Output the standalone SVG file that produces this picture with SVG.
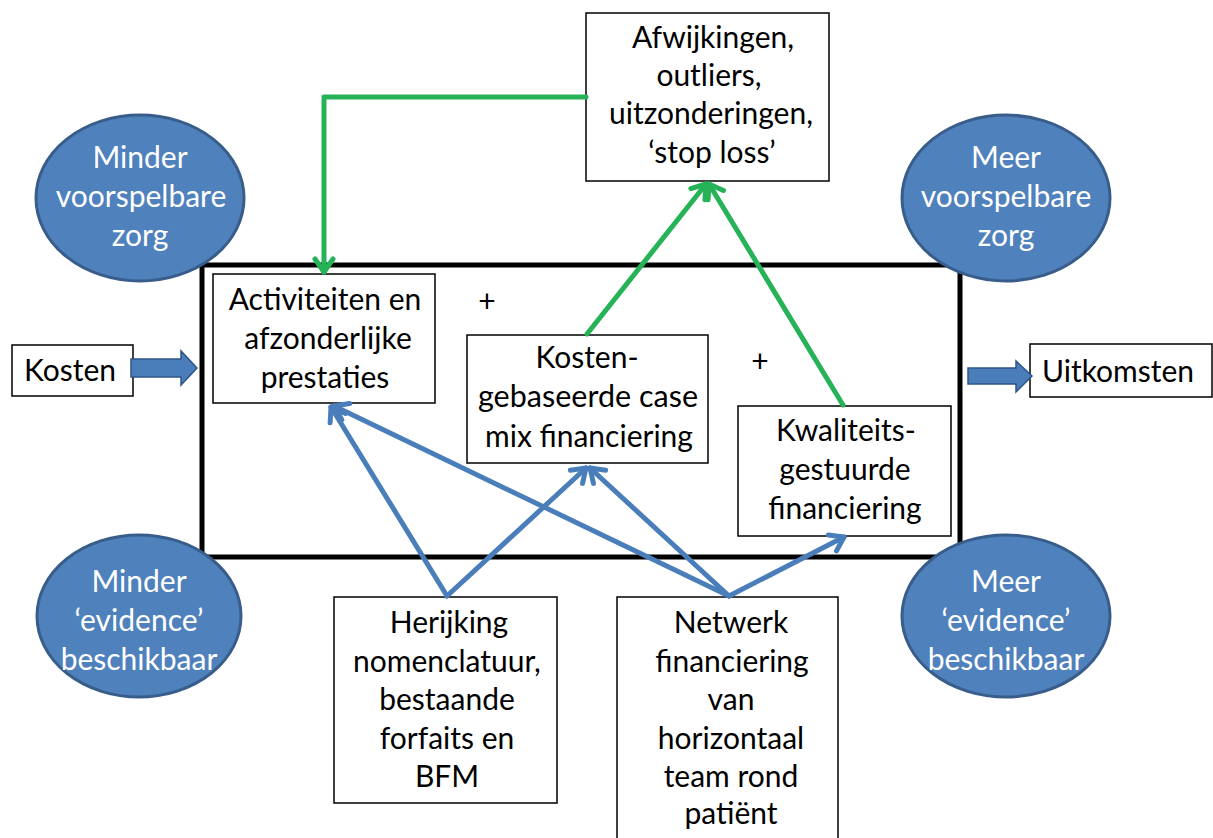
<svg xmlns="http://www.w3.org/2000/svg" width="1213" height="838" viewBox="0 0 1213 838">
<style>
.box{fill:#fff;stroke:#000;stroke-width:1.5}
.t{font-family:Lato,"Liberation Sans",sans-serif;font-size:30px;fill:#000;text-anchor:middle}
.w{fill:#fff}
.ell{fill:#4f81bd;stroke:#385d8a;stroke-width:3}
.g{fill:none;stroke:#26b257;stroke-width:5;stroke-linecap:round;stroke-linejoin:round}
.b{fill:none;stroke:#4a7ebb;stroke-width:5;stroke-linecap:round;stroke-linejoin:round}
.blk{fill:#4a7ebb;stroke:#2f5488;stroke-width:1.5}
</style>
<defs>
<marker id="ag" markerUnits="userSpaceOnUse" viewBox="-16 -12 20 24" refX="0" refY="0" markerWidth="20" markerHeight="24" orient="auto" overflow="visible">
<path d="M-13,-9 L0,0 L-13,9" fill="none" stroke="#26b257" stroke-width="5" stroke-linecap="round" stroke-linejoin="round"/>
</marker>
<marker id="ab" markerUnits="userSpaceOnUse" viewBox="-16 -12 20 24" refX="0" refY="0" markerWidth="20" markerHeight="24" orient="auto" overflow="visible">
<path d="M-13,-9 L0,0 L-13,9" fill="none" stroke="#4a7ebb" stroke-width="5" stroke-linecap="round" stroke-linejoin="round"/>
</marker>
</defs>
<rect id="frame" x="202" y="265" width="758" height="292" fill="none" stroke="#000" stroke-width="5"/>
<g id="ell-tl"><ellipse class="ell" cx="140" cy="198" rx="104" ry="83"/>
<text class="t w" x="140" y="168">Minder</text><text class="t w" x="141" y="207">voorspelbare</text><text class="t w" x="140" y="246">zorg</text></g>
<g id="ell-tr"><ellipse class="ell" cx="1006" cy="198" rx="104" ry="83"/>
<text class="t w" x="1006" y="168">Meer</text><text class="t w" x="1006" y="207">voorspelbare</text><text class="t w" x="1006" y="246">zorg</text></g>
<g id="ell-bl"><ellipse class="ell" cx="139" cy="616" rx="102" ry="81"/>
<text class="t w" x="139" y="592">Minder</text><text class="t w" x="139" y="631">‘evidence’</text><text class="t w" x="139" y="670">beschikbaar</text></g>
<g id="ell-br"><ellipse class="ell" cx="1006" cy="616" rx="104" ry="81"/>
<text class="t w" x="1006" y="592">Meer</text><text class="t w" x="1006" y="631">‘evidence’</text><text class="t w" x="1006" y="670">beschikbaar</text></g>
<g id="kosten"><rect class="box" x="12" y="345" width="121" height="51"/><text class="t" x="70" y="381">Kosten</text></g>
<g id="uitkomsten"><rect class="box" x="1030" y="344" width="182" height="53"/><text class="t" x="1118" y="382">Uitkomsten</text></g>
<g id="afwijkingen"><rect class="box" x="586" y="13" width="243" height="168"/>
<text class="t" x="713" y="48">Afwijkingen,</text><text class="t" x="709" y="86">outliers,</text><text class="t" x="711" y="124">uitzonderingen,</text><text class="t" x="712" y="163">‘stop loss’</text></g>
<g id="activiteiten"><rect class="box" x="213" y="274" width="222" height="129"/>
<text class="t" x="325" y="310">Activiteiten en</text><text class="t" x="328" y="349">afzonderlijke</text><text class="t" x="325" y="388">prestaties</text></g>
<g id="kostengebaseerd"><rect class="box" x="467" y="335" width="241" height="128"/>
<text class="t" x="587" y="368">Kosten-</text><text class="t" x="588" y="407" textLength="220" lengthAdjust="spacingAndGlyphs">gebaseerde case</text><text class="t" x="589" y="447">mix financiering</text></g>
<g id="kwaliteit"><rect class="box" x="738" y="406" width="213" height="130"/>
<text class="t" x="846" y="441">Kwaliteits-</text><text class="t" x="845" y="480">gestuurde</text><text class="t" x="845" y="519">financiering</text></g>
<g id="herijking"><rect class="box" x="334" y="597" width="223" height="206"/>
<text class="t" x="449" y="633">Herijking</text><text class="t" x="447" y="672">nomenclatuur,</text><text class="t" x="447" y="710">bestaande</text><text class="t" x="447" y="749">forfaits en</text><text class="t" x="447" y="787">BFM</text></g>
<g id="netwerk"><rect class="box" x="617" y="597" width="221" height="250"/>
<text class="t" x="731" y="633">Netwerk</text><text class="t" x="732" y="672">financiering</text><text class="t" x="731" y="710">van</text><text class="t" x="731" y="749">horizontaal</text><text class="t" x="731" y="787">team rond</text><text class="t" x="731" y="824">patiënt</text></g>
<g id="plus"><text class="t" x="487" y="312">+</text><text class="t" x="760" y="372">+</text></g>
<g id="connectors">
<path class="blk" d="M131,359 L181,359 L181,351 L197,368 L181,385 L181,377 L131,377 Z"/>
<path class="blk" d="M968,368 L1016,368 L1016,361 L1032,376 L1016,392 L1016,384 L968,384 Z"/>
<path class="g" d="M586,97 L324,97 L324,272" marker-end="url(#ag)"/>
<path class="g" d="M587,334 L706,184" marker-end="url(#ag)"/>
<path class="g" d="M843,405 L709,184" marker-end="url(#ag)"/>
<path class="b" d="M447,596 L331,407" marker-end="url(#ab)"/>
<path class="b" d="M447,596 L586,468" marker-end="url(#ab)"/>
<path class="b" d="M729,596 L334,406" marker-end="url(#ab)"/>
<path class="b" d="M729,596 L590,468" marker-end="url(#ab)"/>
<path class="b" d="M729,596 L844,537" marker-end="url(#ab)"/>
</g>
</svg>
